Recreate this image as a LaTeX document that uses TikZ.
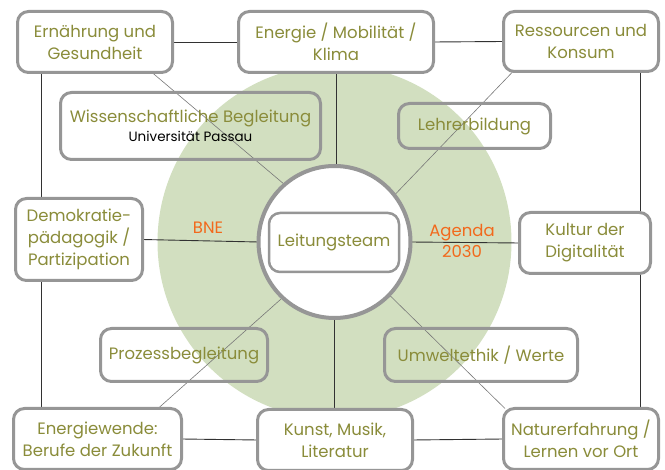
\documentclass[tikz,border=0pt]{standalone}
\usepackage{fontspec}
\setmainfont{Poppins}
\definecolor{olive}{RGB}{138,140,58}
\definecolor{bneorange}{RGB}{242,105,28}
\definecolor{ringgreen}{RGB}{210,223,192}
\definecolor{boxgray}{RGB}{150,150,150}
\definecolor{linedark}{RGB}{50,50,50}
\definecolor{linegray}{RGB}{120,120,120}
\pgfdeclarelayer{ringlayer}
\pgfdeclarelayer{connlayer}
\pgfsetlayers{ringlayer,connlayer,main}
\tikzset{
  box/.style={draw=boxgray, line width=3pt, rounded corners=11pt, fill=white,
    align=center, text=olive, inner sep=0pt, outer sep=0pt,
    font=\fontsize{16.5}{22}\selectfont},
  openbox/.style={box, fill=none},
  conn/.style={draw=linedark, line width=0.9pt},
  diag/.style={draw=linegray, line width=0.6pt},
  lab/.style={text=bneorange, align=center, font=\fontsize{16.5}{21}\selectfont}
}
\begin{document}
\begin{tikzpicture}[x=1pt,y=-1pt]
\useasboundingbox (0,0) rectangle (665,470);
\begin{pgfonlayer}{ringlayer}
\fill[ringgreen] (334.5,242) circle (177);
\end{pgfonlayer}
% outer boxes
\node[box, minimum width=155pt, minimum height=61pt] (ern) at (95,42) {Ernährung und\\Gesundheit};
\node[box, minimum width=195pt, minimum height=61pt] (ene) at (336,42) {Energie / Mobilität /\\Klima};
\node[box, minimum width=155pt, minimum height=60pt] (res) at (581,41.5) {Ressourcen und\\Konsum};
\node[box, minimum width=127pt, minimum height=82pt] (demo) at (79,239.5) {Demokratie-\\pädagogik /\\Partizipation};
\node[box, minimum width=131pt, minimum height=61pt] (kul) at (585,243) {Kultur der\\Digitalität};
\node[box, minimum width=168pt, minimum height=61pt] (ew) at (97.5,439) {Energiewende:\\Berufe der Zukunft};
\node[box, minimum width=155pt, minimum height=61pt] (kun) at (335,440) {Kunst, Musik,\\Literatur};
\node[box, minimum width=155pt, minimum height=61pt] (nat) at (581,439) {Naturerfahrung /\\Lernen vor Ort};
% inner boxes
\node[openbox, minimum width=260pt, minimum height=67pt] (wiss) at (190.5,126) {Wissenschaftliche Begleitung\\[-3pt]{\color{black}\fontsize{13.5}{16}\selectfont Universität Passau}};
\node[openbox, minimum width=152pt, minimum height=45pt] (leh) at (474.5,126) {Lehrerbildung};
\node[openbox, minimum width=167pt, minimum height=53pt] (pro) at (184,355) {Prozessbegleitung};
\node[openbox, minimum width=193pt, minimum height=53pt] (umw) at (481,355) {Umweltethik / Werte};
% center
\node[circle, draw=boxgray, line width=4pt, fill=white, minimum size=152pt, inner sep=0pt, outer sep=0pt] (circ) at (334.5,242) {};
\node[box, line width=2.5pt, minimum width=130pt, minimum height=59pt] (lt) at (334,242.5) {Leitungsteam};
\node[lab] (bne) at (208,228) {BNE};
\node[lab] (agenda) at (462,241) {Agenda\\2030};
% connectors
\begin{pgfonlayer}{connlayer}
\draw[conn] (ern.east) -- (ene.west);
\draw[conn] (ene.east) -- (res.west);
\draw[conn] ([xshift=-54pt]ern.south) -- ([xshift=-54pt]ern.south |- demo.north);
\draw[conn] ([xshift=-38pt]demo.south) -- ([xshift=-38pt]demo.south |- ew.north);
\draw[conn] ([xshift=59pt]res.south) -- ([xshift=59pt]res.south |- kul.north);
\draw[conn] ([xshift=55pt]kul.south) -- ([xshift=55pt]kul.south |- nat.north);
\draw[conn] (ene.south) -- (ene.south |- circ.north);
\draw[conn] (circ.south) -- (circ.south |- kun.north);
\draw[conn] (demo.east) -- (circ.west);
\draw[conn] (circ.east) -- (kul.west);
\draw[conn] (ew.east) -- (kun.west);
\draw[conn] (kun.east) -- (nat.west);
\draw[diag] ([xshift=57pt]ern.south) -- (circ.131);
\draw[diag] ([xshift=-68pt]res.south) -- (circ.38);
\draw[diag] ([xshift=60.5pt]ew.north) -- (circ.227);
\draw[diag] ([xshift=-76pt]nat.north) -- (circ.316);
\end{pgfonlayer}
\end{tikzpicture}
\end{document}
